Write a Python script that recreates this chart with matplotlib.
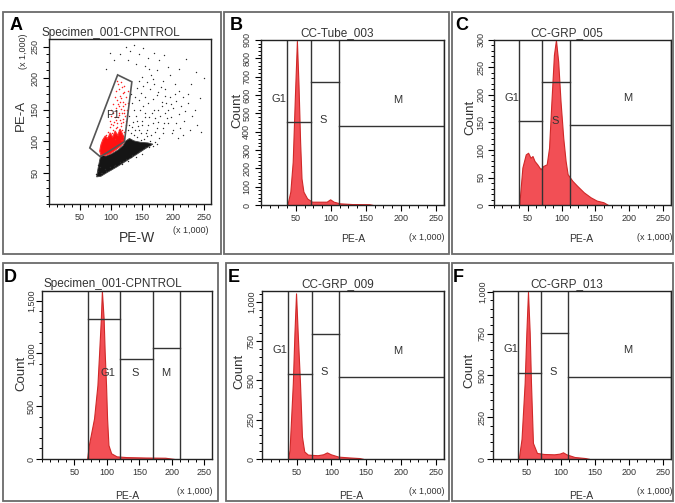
import matplotlib
matplotlib.use('Agg')
import matplotlib.pyplot as plt
import matplotlib.ticker as mticker
from matplotlib.patches import Rectangle, Polygon
import numpy as np

plt.rcParams['font.family'] = ['Liberation Sans', 'DejaVu Sans']

W, H = 675, 503

# ---------------- panel A: PE-W vs PE-A dot plot ----------------
gate_p1 = [(111, 205), (134, 194), (122, 99), (83, 75), (66, 89)]

dense_black = [(77, 43), (79, 55), (82, 70), (84, 78), (92, 76), (102, 80), (112, 86),
               (120, 93), (124, 100), (130, 104), (138, 100), (148, 98), (160, 97),
               (168, 95), (156, 88), (142, 79), (126, 69), (110, 59), (94, 50), (84, 44)]

dense_red = [(82, 84), (84, 94), (87, 102), (91, 108), (95, 104), (99, 113), (103, 106),
             (107, 116), (111, 109), (115, 119), (119, 111), (122, 104), (122, 99),
             (116, 92), (108, 86), (99, 80), (90, 77), (84, 78)]

black_dots = [
    (124, 250), (131, 243), (138, 252), (146, 238), (152, 247), (160, 232), (128, 228),
    (141, 222), (155, 219), (170, 240), (178, 228), (186, 236), (192, 218), (174, 212),
    (196, 205), (165, 205), (146, 196), (152, 188), (158, 194), (163, 182), (170, 190),
    (176, 178), (181, 186), (187, 171), (149, 177), (156, 170), (168, 166), (174, 173),
    (182, 162), (145, 165), (160, 160), (188, 183), (190, 160), (196, 170), (201, 152),
    (206, 164), (210, 143), (214, 156), (218, 132), (198, 138), (205, 128), (212, 120),
    (192, 128), (220, 147), (216, 110), (188, 145), (200, 118), (209, 105), (134, 160),
    (138, 150), (141, 140), (136, 130), (144, 124), (150, 132), (156, 145), (162, 138),
    (168, 128), (174, 120), (158, 118), (148, 112), (139, 118), (153, 104), (165, 110),
    (178, 105), (184, 112), (170, 150), (180, 140), (186, 128), (163, 100), (142, 106),
    (132, 112), (130, 140), (133, 175), (225, 160), (232, 140), (240, 125), (236, 150),
    (246, 115), (228, 118), (98, 240), (105, 228), (115, 238), (92, 215), (250, 200),
    (238, 210), (210, 215), (222, 230),
    (135, 122), (138, 110), (146, 118), (151, 126), (143, 132), (155, 138), (160, 126),
    (166, 144), (172, 136), (177, 150), (183, 156), (193, 150), (197, 158), (203, 175),
    (185, 120), (191, 136), (199, 112), (176, 130), (171, 114), (159, 108), (147, 150),
    (152, 156), (139, 170), (143, 184), (150, 202), (161, 214), (169, 198), (184, 196),
    (203, 190), (211, 180), (217, 170), (224, 175), (230, 190), (244, 168), (128, 118),
    (131, 104), (137, 100), (148, 102), (157, 112), (129, 126),
    (76, 47), (80, 52), (84, 49), (90, 56), (98, 58), (106, 62), (115, 66), (124, 72),
    (134, 78), (145, 84), (156, 90), (164, 94), (172, 98), (168, 92), (150, 80),
    (140, 74), (128, 68), (118, 64), (100, 55), (86, 50), (82, 58), (79, 62),
    (174, 95), (162, 90), (148, 85), (133, 75), (120, 68), (105, 60), (92, 53),
]

red_dots = [
    (110, 196), (116, 193), (112, 190), (118, 185), (113, 183), (122, 178), (108, 180),
    (115, 172), (125, 170), (106, 170), (110, 165), (120, 162), (128, 160), (104, 158),
    (114, 155), (119, 155), (122, 150), (100, 150), (108, 148), (118, 145), (126, 142),
    (100, 140), (112, 138), (120, 135), (105, 130), (116, 128), (124, 132), (124, 125),
    (98, 122), (108, 120), (118, 118), (121, 115), (102, 112), (112, 110), (120, 108),
    (96, 106), (106, 104), (116, 102), (118, 101), (95, 115), (110, 128), (114, 145),
    (106, 138), (111, 158), (117, 168), (121, 188), (127, 180), (103, 125), (92, 110),
    (99, 132), (113, 117), (123, 140), (107, 112), (115, 133), (126, 150),
    (104, 118), (110, 122), (117, 124), (101, 127), (119, 130), (109, 134), (113, 141),
    (121, 144), (104, 145), (117, 151), (109, 152), (123, 158), (115, 162), (119, 176),
]

# ---------------- histograms (PE-A x1000, count) ----------------
hist_b_x = [37, 38, 42, 45.4, 48.6, 51.4, 53.7, 56, 58, 60.7, 66, 73, 85, 94, 99, 104, 113, 131, 155, 160]
hist_b_y = [0, 5, 73, 236, 600, 895, 655, 345, 145, 73, 36, 18, 18, 18, 31, 18, 9, 5, 4, 0]

hist_c_x = [37, 37.5, 42, 47, 50.5, 54, 57, 60, 64, 69, 73, 78, 81.5, 85, 88.7, 91.7, 95,
            98.5, 102.5, 106, 109, 116, 123, 133, 143, 152, 162, 169]
hist_c_y = [0, 2, 68, 92, 95, 86, 89, 80, 74, 65, 71, 74, 104, 188, 273, 300, 261,
            188, 122, 80, 56, 44, 35, 23, 14, 8, 5, 0]

hist_d_x = [69.5, 72.2, 80.2, 85.4, 88.1, 90.7, 92.3, 95, 96.6, 98.7, 100.3, 102.4, 106.6,
            115, 130, 160, 190, 204]
hist_d_y = [0, 132, 384, 698, 1012, 1327, 1590, 1327, 1012, 698, 384, 132, 54,
            25, 18, 14, 12, 0]

hist_e_x = [37.5, 39.7, 44.4, 46.7, 49, 51.4, 54.7, 57.5, 60.8, 66, 80, 88, 93.5, 99, 110, 125, 140, 146]
hist_e_y = [0, 59, 484, 800, 1053, 800, 484, 143, 48, 28, 24, 30, 42, 30, 15, 10, 6, 0]

hist_f_x = [37, 38.2, 42, 46.6, 49.1, 51.5, 54, 55.9, 58.8, 64.7, 75, 90, 98, 103, 108, 120, 135, 142]
hist_f_y = [0, 10, 120, 456, 756, 1000, 756, 456, 96, 36, 30, 28, 32, 40, 28, 12, 6, 0]

# gate edges (G1 | S | M) and gate heights
gates_b = [37, 72, 111.5, 262]
gates_c = [37, 70.6, 112, 262]
gates_d = [71, 120, 171, 212]
gates_e = [37.4, 72.5, 111, 262]
gates_f = [37, 70, 111, 262]
gate_h_b = [453, 671, 431]
gate_h_c = [152, 224, 146]
gate_h_d = [1321, 943, 1050]
gate_h_e = [541, 795, 520]
gate_h_f = [512, 752, 492]

titles = ['Specimen_001-CPNTROL', 'CC-Tube_003', 'CC-GRP_005',
          'Specimen_001-CPNTROL', 'CC-GRP_009', 'CC-GRP_013']
letters = ['A', 'B', 'C', 'D', 'E', 'F']

fig = plt.figure(figsize=(W / 100, H / 100), dpi=100)


def fx(x):
    return x / W


def fy(y):
    return 1 - y / H


def add_ax(x0, y0, x1, y1):
    return fig.add_axes([fx(x0), fy(y1), (x1 - x0) / W, (y1 - y0) / H])


# panel frames
frames = [(3, 12, 221, 254), (224, 12, 449, 254), (452, 12, 673, 254),
          (3, 263, 218, 501), (226, 263, 449, 501), (452, 263, 673, 501)]
for (x0, y0, x1, y1) in frames:
    fig.patches.append(Rectangle((fx(x0), fy(y1)), (x1 - x0) / W, (y1 - y0) / H,
                                 transform=fig.transFigure, fill=False,
                                 edgecolor='#6a6a6a', linewidth=1.3))

comma = mticker.FuncFormatter(lambda v, p: '{:,.0f}'.format(v))
tickFont = 6.5
textCol = '#333333'


def style_axis(ax, ymax, ylabels, yminor, ypad):
    ax.set_xlim(0, 262)
    ax.set_ylim(0, ymax)
    ax.xaxis.set_major_locator(mticker.FixedLocator([50, 100, 150, 200, 250]))
    ax.xaxis.set_minor_locator(mticker.MultipleLocator(12.5))
    ax.yaxis.set_major_locator(mticker.FixedLocator(ylabels))
    ax.yaxis.set_minor_locator(mticker.MultipleLocator(yminor))
    ax.yaxis.set_major_formatter(comma)
    ax.tick_params(which='major', length=4, width=0.8, labelsize=tickFont,
                   labelcolor=textCol)
    ax.tick_params(which='minor', length=2.5, width=0.7)
    ax.tick_params(axis='x', pad=2.5)
    ax.tick_params(axis='y', labelrotation=90, pad=ypad)
    for lab in ax.get_yticklabels():
        lab.set_va('center')
    for s in ax.spines.values():
        s.set_linewidth(1.0)
        s.set_color('#222222')


# ---------------- A ----------------
axA = add_ax(49, 39, 211, 204)
style_axis(axA, 262, [50, 100, 150, 200, 250], 12.5, 3)
bd = np.array(black_dots)
rd = np.array(red_dots)
axA.add_patch(Polygon(dense_black, closed=True, facecolor='#151515', edgecolor='#444444', lw=0.6))
axA.scatter(bd[:, 0], bd[:, 1], s=1.0, c='#2a2a2a', linewidths=0)
axA.add_patch(Polygon(dense_red, closed=True, facecolor='#ff1010', edgecolor='#ff3030', lw=0.8))
axA.scatter(rd[:, 0], rd[:, 1], s=1.2, c='#ff2020', linewidths=0)
axA.add_patch(Polygon(gate_p1, closed=True, fill=False, edgecolor='#555555', lw=1.2))
axA.text(104, 142, 'P1', fontsize=8, color='#333333', ha='center', va='center')
fig.text(fx(137), fy(238), 'PE-W', fontsize=10, color=textCol, ha='center', va='center')
fig.text(fx(21), fy(115), 'PE-A', fontsize=9.5, color=textCol, ha='center', va='center', rotation=90)
fig.text(fx(23), fy(51), '(x 1,000)', fontsize=6.5, color=textCol, ha='center', va='center', rotation=90)
fig.text(fx(191), fy(230), '(x 1,000)', fontsize=6.5, color=textCol, ha='center', va='center')

# ---------------- histograms ----------------
hists = [
    dict(box=(261, 40, 444, 205), x=hist_b_x, y=hist_b_y, g=gates_b, gh=gate_h_b,
         ymax=900, major=list(range(0, 901, 100)), minor=20, pad=3,
         lab=[(37, 577, 'G1'), (89.6, 464, 'S'), (195.5, 573, 'M')],
         count=(237, 110), xl=(353, 239), xk=(427, 238)),
    dict(box=(494, 40, 671, 205), x=hist_c_x, y=hist_c_y, g=gates_c, gh=gate_h_c,
         ymax=300, major=list(range(0, 301, 50)), minor=10, pad=2,
         lab=[(37, 195, 'G1'), (90, 152, 'S'), (198, 195, 'M')],
         count=(470, 117), xl=(581, 239), xk=(655, 238)),
    dict(box=(42, 291, 212, 459), x=hist_d_x, y=hist_d_y, g=gates_d, gh=gate_h_d,
         ymax=1590, major=[0, 500, 1000, 1500], minor=100, pad=0.5,
         lab=[(101, 818, 'G1'), (144, 818, 'S'), (191, 818, 'M')],
         count=(21, 373), xl=(127, 496), xk=(195, 491)),
    dict(box=(262, 291, 444, 459), x=hist_e_x, y=hist_e_y, g=gates_e, gh=gate_h_e,
         ymax=1068, major=[0, 250, 500, 750, 1000], minor=50, pad=0.5,
         lab=[(37, 693, 'G1'), (90, 550, 'S'), (195, 689, 'M')],
         count=(239, 371), xl=(351, 496), xk=(427, 491)),
    dict(box=(493, 291, 671, 459), x=hist_f_x, y=hist_f_y, g=gates_f, gh=gate_h_f,
         ymax=1005, major=[0, 250, 500, 750, 1000], minor=50, pad=0.5,
         lab=[(37, 656, 'G1'), (89, 520, 'S'), (198.5, 655, 'M')],
         count=(469, 370), xl=(581, 496), xk=(655, 491)),
]

for h in hists:
    ax = add_ax(*h['box'])
    style_axis(ax, h['ymax'], h['major'], h['minor'], h['pad'])
    ax.fill_between(h['x'], h['y'], 0, facecolor='#f24f55', edgecolor='#d02828', lw=0.8)
    g = h['g']
    for xv in g:
        ax.axvline(xv, color='#333333', lw=1.0)
    for i in range(3):
        ax.plot([g[i], g[i + 1]], [h['gh'][i], h['gh'][i]], color='#333333', lw=1.0)
    for (lx, ly, t) in h['lab']:
        ha = 'right' if (t == 'G1' and lx < 50) else 'center'
        ax.text(lx, ly, t, fontsize=8, color=textCol, ha=ha, va='center')
    fig.text(fx(h['count'][0]), fy(h['count'][1]), 'Count', fontsize=9.5, color=textCol,
             ha='center', va='center', rotation=90)
    fig.text(fx(h['xl'][0]), fy(h['xl'][1]), 'PE-A', fontsize=7.5, color=textCol,
             ha='center', va='center')
    fig.text(fx(h['xk'][0]), fy(h['xk'][1]), '(x 1,000)', fontsize=6.5, color=textCol,
             ha='center', va='center')

# titles and panel letters
title_pos = [(111, 33), (337, 33), (567, 33), (113, 284), (338, 284), (567, 284)]
letter_pos = [(10, 25), (230, 26), (455, 26), (4, 278), (228, 278), (453, 278)]
for t, (tx, ty) in zip(titles, title_pos):
    fig.text(fx(tx), fy(ty), t, fontsize=8.5, color=textCol, ha='center', va='center')
for l, (lx, ly) in zip(letters, letter_pos):
    fig.text(fx(lx), fy(ly), l, fontsize=13, fontweight='bold', color='black',
             ha='left', va='center')

fig.savefig('out.png', dpi=100)
